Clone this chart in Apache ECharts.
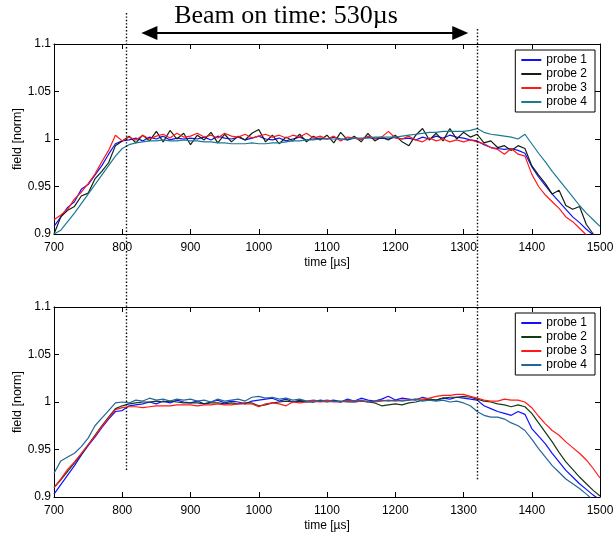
<!doctype html>
<html lang="en">
<head>
<meta charset="UTF-8">
<title>Beam on time</title>
<script src="https://cdn.jsdelivr.net/npm/echarts@6/dist/echarts.min.js"></script>
<style>
    html, body { margin: 0; padding: 0; background: #fff; }
    #main { width: 614px; height: 533px; }
</style>
</head>
<body>
<div id="main"></div>
<script type="text/javascript">
// samples every 10 us, from 700 to 1500
var tStart = 700, tStep = 10;

// upper plot
var top1 = [0.908,0.918,0.928,0.934,0.947,0.952,0.962,0.972,0.984,0.995,
    0.998,0.999,1.001,0.998,1.002,1.000,1.003,0.999,1.001,1.000,
    1.001,1.000,1.002,0.999,1.003,1.001,1.000,1.002,0.999,1.001,
    1.003,1.000,0.999,1.001,0.998,1.000,1.002,0.999,1.000,1.001,
    1.000,1.002,1.000,0.999,1.001,1.000,1.002,1.000,1.001,1.000,
    1.002,1.000,1.001,0.999,1.002,1.000,1.003,1.001,1.004,1.002,
    1.001,0.999,0.998,0.994,0.991,0.990,0.989,0.990,0.988,0.985,
    0.971,0.960,0.951,0.942,0.934,0.926,0.918,0.912,0.905,0.899,
    0.893];
var top2 = [0.900,0.918,0.925,0.929,0.940,0.943,0.958,0.966,0.975,0.993,
    0.998,1.003,0.996,1.004,0.998,1.008,0.997,1.009,1.000,1.006,
    0.994,1.004,0.999,1.007,0.996,1.005,0.997,1.003,0.999,1.006,
    1.010,0.997,1.004,0.995,1.002,0.998,1.005,0.997,1.003,0.999,
    1.004,0.996,1.007,0.999,1.003,0.997,1.006,0.998,1.002,0.999,
    1.004,0.997,0.993,1.004,1.011,0.999,1.006,0.998,1.011,1.000,
    1.007,1.002,1.005,0.996,0.998,0.991,0.993,0.988,0.993,0.990,
    0.972,0.962,0.953,0.942,0.946,0.930,0.926,0.929,0.910,0.900,
    0.892];
var top3 = [0.915,0.920,0.926,0.937,0.944,0.953,0.963,0.976,0.988,1.004,
    0.998,1.002,0.999,1.004,1.000,1.003,1.005,1.001,1.006,1.002,
    1.003,1.006,1.002,1.004,1.001,1.006,1.003,1.002,1.005,1.001,
    1.003,1.005,1.002,1.004,1.001,1.004,1.002,1.006,1.001,1.003,
    1.000,1.003,0.998,1.002,1.001,0.999,1.003,1.001,1.002,1.008,
    1.001,1.000,1.003,0.999,0.997,1.001,0.998,1.000,0.997,0.999,
    0.997,0.999,0.997,0.995,0.991,0.989,0.984,0.990,0.984,0.982,
    0.963,0.950,0.941,0.934,0.927,0.918,0.913,0.906,0.899,0.892,
    0.885];
var top4 = [0.900,0.904,0.913,0.922,0.932,0.942,0.952,0.962,0.972,0.982,
    0.990,0.994,0.996,0.997,0.998,0.998,0.999,0.998,0.998,0.999,
    0.998,0.998,0.997,0.997,0.996,0.996,0.995,0.995,0.995,0.996,
    0.995,0.995,0.996,0.996,0.997,0.998,0.998,0.999,0.999,1.000,
    1.000,1.000,1.000,1.000,1.001,1.001,1.001,1.002,1.002,1.002,
    1.002,1.003,1.004,1.005,1.006,1.007,1.007,1.008,1.008,1.008,
    1.008,1.009,1.011,1.007,1.005,1.004,1.003,1.002,1.000,1.005,
    0.995,0.985,0.976,0.966,0.957,0.948,0.939,0.930,0.922,0.915,
    0.908];

// lower plot
var bot1 = [0.903,0.913,0.923,0.933,0.944,0.954,0.963,0.973,0.982,0.990,
    0.991,0.996,0.997,0.998,1.000,0.998,1.001,0.999,1.002,1.000,
    0.999,1.001,0.998,1.000,1.002,0.999,1.001,1.000,0.998,1.001,
    1.002,1.003,1.004,1.001,1.003,1.000,1.002,1.001,1.000,1.002,
    1.001,1.002,1.000,1.003,1.001,1.004,1.002,1.001,1.003,1.006,
    1.002,1.004,1.003,1.002,1.005,1.003,1.002,1.004,1.003,1.005,
    1.004,1.003,1.002,0.996,0.993,0.990,0.988,0.986,0.990,0.987,
    0.972,0.964,0.956,0.946,0.937,0.928,0.921,0.914,0.908,0.902,
    0.897];
var bot2 = [0.910,0.918,0.927,0.936,0.945,0.955,0.965,0.975,0.984,0.993,
    0.996,0.998,0.999,1.000,1.000,1.001,1.000,1.001,1.000,0.999,
    0.999,0.999,0.998,0.999,0.999,0.998,0.999,0.998,0.999,0.999,
    0.996,0.997,0.999,1.000,1.001,1.000,1.001,1.000,1.000,1.001,
    1.000,1.001,1.001,1.000,1.000,1.001,1.000,0.999,0.996,0.997,
    0.998,0.997,0.999,1.000,1.002,1.003,1.002,1.004,1.005,1.005,
    1.006,1.005,1.003,1.001,1.000,0.998,0.997,0.995,0.997,0.995,
    0.988,0.978,0.968,0.958,0.947,0.937,0.929,0.921,0.914,0.907,
    0.901];
var bot3 = [0.910,0.919,0.929,0.937,0.946,0.955,0.964,0.974,0.983,0.992,
    0.994,0.995,0.995,0.994,0.995,0.996,0.996,0.996,0.997,0.997,
    0.997,0.996,0.997,0.997,0.998,0.997,0.997,0.998,0.998,0.998,
    0.995,0.998,0.999,0.998,0.996,1.000,0.999,1.000,1.001,1.000,
    1.001,1.000,1.000,1.001,1.000,1.001,1.001,1.000,1.001,1.002,
    1.001,1.002,1.002,1.003,1.003,1.004,1.006,1.007,1.007,1.008,
    1.008,1.006,1.004,1.002,1.001,1.001,1.003,1.002,1.002,1.000,
    0.994,0.985,0.977,0.970,0.965,0.958,0.952,0.946,0.939,0.930,
    0.920];
var bot4 = [0.925,0.938,0.942,0.946,0.953,0.962,0.975,0.983,0.991,0.999,
    1.000,0.999,1.002,1.001,1.004,1.002,1.003,1.001,1.003,1.002,
    1.003,1.001,1.002,1.000,1.003,1.001,1.002,1.003,1.001,1.005,
    1.006,1.004,1.005,1.003,1.004,1.002,1.003,1.001,1.002,1.001,
    1.002,1.001,1.000,1.002,1.001,1.002,1.000,1.001,1.002,1.001,
    1.002,1.001,1.002,1.003,1.001,1.002,1.001,1.002,1.000,1.001,
    0.999,0.996,0.990,0.986,0.984,0.984,0.982,0.978,0.975,0.970,
    0.961,0.951,0.942,0.933,0.926,0.919,0.914,0.909,0.903,0.897,
    0.892];

var names = ['probe 1', 'probe 2', 'probe 3', 'probe 4'];
var topColors = ['#1010ff', '#122012', '#ff1a1a', '#1b7a92'];
var botColors = ['#1010ff', '#153a15', '#ff1a1a', '#23669a'];

// annotation
var markerTimes = [805, 1320];
var markerEnds = [0.927, 0.918];   // where the dotted lines stop in the lower plot
var arrowTimes = [828, 1307];
var titleText = 'Beam on time: 530\u00b5s';

var FONT = '"Liberation Sans", Arial, Helvetica, sans-serif';

function pairs(arr) {
    return arr.map(function (v, i) { return [tStart + tStep * i, v]; });
}

function xAxes(gi) {
    var base = {
        gridIndex: gi, type: 'value', min: 700, max: 1500, interval: 100,
        axisLine: { show: true, lineStyle: { color: '#000', width: 1 } },
        axisTick: { show: true, inside: true, length: 5, lineStyle: { color: '#000' } },
        splitLine: { show: false }
    };
    var b = Object.assign({}, base, {
        position: 'bottom',
        name: 'time [\u00b5s]', nameLocation: 'middle', nameGap: 23, nameMoveOverlap: false,
        nameTextStyle: { color: '#000', fontSize: 12, fontFamily: FONT },
        axisLabel: { color: '#000', fontSize: 12, fontFamily: FONT, margin: 8,
            formatter: function (v) { return String(v); } }
    });
    var t = Object.assign({}, base, { position: 'top', axisLabel: { show: false } });
    return [b, t];
}

function yAxes(gi) {
    var base = {
        gridIndex: gi, type: 'value', min: 0.9, max: 1.1, interval: 0.05,
        axisLine: { show: true, lineStyle: { color: '#000', width: 1 } },
        axisTick: { show: true, inside: true, length: 5, lineStyle: { color: '#000' } },
        splitLine: { show: false }
    };
    var l = Object.assign({}, base, {
        position: 'left',
        name: 'field [norm]', nameLocation: 'middle', nameGap: 30, nameMoveOverlap: false,
        nameTextStyle: { color: '#000', fontSize: 12.5, fontFamily: FONT },
        axisLabel: { color: '#000', fontSize: 12, fontFamily: FONT, margin: 3,
            formatter: function (v) { return String(+v.toFixed(3)); } }
    });
    var r = Object.assign({}, base, { position: 'right', axisLabel: { show: false } });
    return [l, r];
}

function legend(top, colors) {
    return {
        orient: 'vertical', right: 19, top: top,
        backgroundColor: '#fff', borderColor: '#000', borderWidth: 1,
        padding: [3, 8, 3, 6], itemGap: 0,
        icon: 'rect', itemWidth: 20, itemHeight: 2,
        textStyle: { color: '#000', fontSize: 12, fontFamily: FONT, lineHeight: 14 },
        data: names.map(function (n, i) { return { name: n, itemStyle: { color: colors[i] } }; })
    };
}

function lineSeries(name, data, color, axisIdx) {
    return {
        name: name, type: 'line', xAxisIndex: axisIdx, yAxisIndex: axisIdx,
        data: pairs(data), showSymbol: false, symbol: 'none',
        lineStyle: { color: color, width: 1.2 }, itemStyle: { color: color },
        clip: true, animation: false
    };
}

var chart = echarts.init(document.getElementById('main'));

var option = {
    animation: false,
    backgroundColor: '#fff',
    grid: [
        { left: 54, top: 44, width: 546, height: 190, outerBoundsMode: 'none', containLabel: false },
        { left: 54, top: 307, width: 546, height: 190, outerBoundsMode: 'none', containLabel: false }
    ],
    xAxis: xAxes(0).concat(xAxes(1)),
    yAxis: yAxes(0).concat(yAxes(1)),
    legend: [legend(50, topColors), legend(313, botColors)],
    series: [
        lineSeries(names[0], top1, topColors[0], 0),
        lineSeries(names[1], top2, topColors[1], 0),
        lineSeries(names[2], top3, topColors[2], 0),
        lineSeries(names[3], top4, topColors[3], 0),
        lineSeries(names[0], bot1, botColors[0], 2),
        lineSeries(names[1], bot2, botColors[1], 2),
        lineSeries(names[2], bot3, botColors[2], 2),
        lineSeries(names[3], bot4, botColors[3], 2)
    ]
};
chart.setOption(option);

// dotted markers, arrow and caption
var dotTop = [13, 29];
var g = [];
markerTimes.forEach(function (t, i) {
    var x = Math.round(chart.convertToPixel({ xAxisIndex: 0 }, t)) + 0.5;
    var yEnd = chart.convertToPixel({ yAxisIndex: 2 }, markerEnds[i]);
    g.push({
        type: 'line', z: 100,
        shape: { x1: x, y1: dotTop[i], x2: x, y2: yEnd },
        style: { stroke: '#000', lineWidth: 1.4, lineDash: [1.4, 2] }
    });
});
var ax1 = chart.convertToPixel({ xAxisIndex: 0 }, arrowTimes[0]);
var ax2 = chart.convertToPixel({ xAxisIndex: 0 }, arrowTimes[1]);
var ay = 33, headL = 16, headH = 7;
g.push({
    type: 'line', z: 100,
    shape: { x1: ax1 + headL - 2, y1: ay, x2: ax2 - headL + 2, y2: ay },
    style: { stroke: '#000', lineWidth: 2.2 }
});
g.push({
    type: 'polygon', z: 100,
    shape: { points: [[ax1, ay], [ax1 + headL, ay - headH], [ax1 + headL, ay + headH]] },
    style: { fill: '#000' }
});
g.push({
    type: 'polygon', z: 100,
    shape: { points: [[ax2, ay], [ax2 - headL, ay - headH], [ax2 - headL, ay + headH]] },
    style: { fill: '#000' }
});
g.push({
    type: 'text', z: 101,
    style: {
        text: titleText, x: 286, y: 29, textAlign: 'center', textVerticalAlign: 'bottom',
        fill: '#000', fontSize: 26, fontFamily: '"Liberation Serif", "Times New Roman", serif',
        backgroundColor: 'transparent'
    }
});
chart.setOption({ graphic: g });
</script>
</body>
</html>
